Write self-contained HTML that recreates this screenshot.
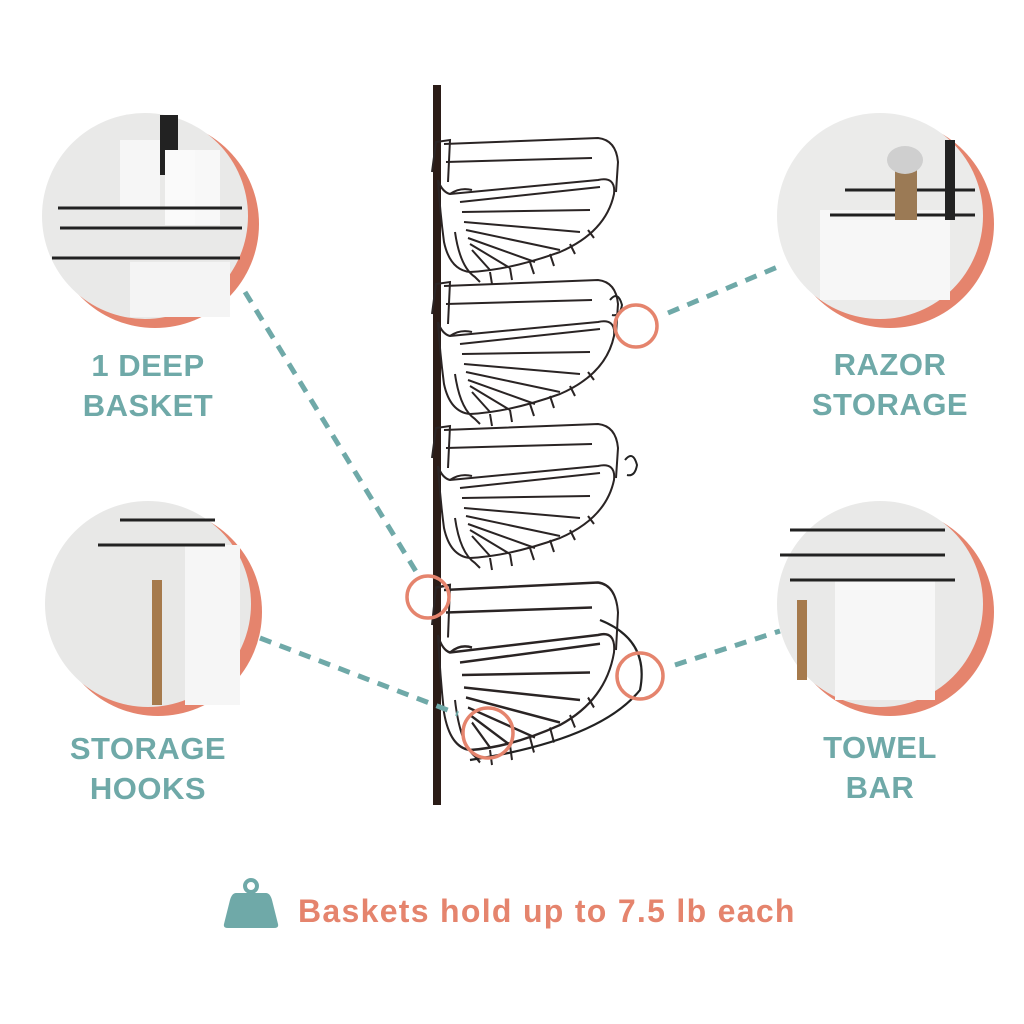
<!DOCTYPE html>
<html><head><style>
body{margin:0;background:#fff;width:1024px;height:1024px;overflow:hidden;font-family:"Liberation Sans",sans-serif}
.t{position:absolute;font-weight:bold;color:#6fa9a8;font-size:31px;text-align:center;line-height:40px;letter-spacing:0.5px}
</style></head><body>
<svg width="1024" height="1024" style="position:absolute;left:0;top:0">
<defs>
<g id="bk" fill="none" stroke="#2a2424" stroke-width="2">
<path d="M14,12 L168,6 Q186,8 188,30 L186,60"/>
<path d="M16,30 L162,26"/>
<path d="M8,48 Q12,60 20,62 L168,48 Q186,44 184,62 Q176,100 130,120 Q80,138 40,140 Q20,138 14,110 Q10,80 8,48"/>
<path d="M20,62 Q30,55 42,58"/>
<path d="M30,70 L170,55 M32,80 L160,78 M34,90 L150,100 M36,98 L130,118 M38,106 L105,130 M40,112 L80,136 M42,118 L60,138"/>
<path d="M25,100 Q30,135 45,145 L50,150 M60,140 L62,152 M80,136 L82,148 M100,130 L104,142 M120,122 L124,134 M140,112 L145,122 M158,98 L164,106"/>
<path d="M2,40 L6,10 L20,8 L18,50"/>
</g>
</defs>
<circle cx="155" cy="224" r="104" fill="#e5846d"/>
<circle cx="145" cy="216" r="103" fill="#e9e9e8"/>
<rect x="160" y="115" width="18" height="60" fill="#222"/><rect x="120" y="140" width="40" height="70" fill="#f6f6f6"/><rect x="165" y="150" width="30" height="75" fill="#fafafa"/><rect x="195" y="150" width="25" height="75" fill="#f8f8f8"/>
<path d="M58,208 L242,208 M60,228 L242,228 M52,258 L240,258" stroke="#222" stroke-width="3"/>
<rect x="130" y="262" width="100" height="55" fill="#f4f4f4"/>
<circle cx="890" cy="224" r="104" fill="#e5846d"/>
<circle cx="880" cy="216" r="103" fill="#ebebea"/>
<rect x="820" y="210" width="130" height="90" fill="#f7f7f7"/>
<path d="M845,190 L975,190 M830,215 L975,215" stroke="#222" stroke-width="3"/>
<rect x="895" y="160" width="22" height="60" fill="#9b7a55"/><ellipse cx="905" cy="160" rx="18" ry="14" fill="#cfcfcf"/>
<rect x="945" y="140" width="10" height="80" fill="#222"/>
<circle cx="158" cy="612" r="104" fill="#e5846d"/>
<circle cx="148" cy="604" r="103" fill="#e8e8e7"/>
<rect x="185" y="545" width="55" height="160" fill="#f6f6f6"/>
<path d="M98,545 L225,545 M120,520 L215,520" stroke="#222" stroke-width="3"/>
<rect x="152" y="580" width="10" height="125" fill="#a67a4c"/>
<circle cx="890" cy="612" r="104" fill="#e5846d"/>
<circle cx="880" cy="604" r="103" fill="#e9e9e8"/>
<rect x="835" y="580" width="100" height="120" fill="#f7f7f7"/>
<path d="M780,555 L945,555 M790,580 L955,580 M790,530 L945,530" stroke="#222" stroke-width="3"/>
<rect x="797" y="600" width="10" height="80" fill="#a67a4c"/>
<rect x="433" y="85" width="8" height="720" fill="#2b1c17"/>
<use href="#bk" transform="translate(430,132)"/>
<use href="#bk" transform="translate(430,274)"/>
<use href="#bk" transform="translate(430,418)"/>
<use href="#bk" transform="translate(430,575) scale(1,1.25)"/>
<path d="M610,300 q8,-10 12,5 q-2,12 -10,10 M625,460 q8,-10 12,5 q-2,12 -10,10" stroke="#222" stroke-width="2" fill="none"/>
<path d="M600,620 Q650,640 640,690 Q600,740 470,760" stroke="#222" stroke-width="2.2" fill="none"/>
<g stroke="#6fa9a8" stroke-width="5" stroke-dasharray="12,9" fill="none">
<path d="M245,292 L420,578"/>
<path d="M260,638 L458,714"/>
<path d="M668,313 L780,266"/>
<path d="M675,665 L780,631"/>
</g>
<g stroke="#e5846d" stroke-width="3.5" fill="none">
<circle cx="636" cy="326" r="21"/>
<circle cx="428" cy="597" r="21"/>
<circle cx="640" cy="676" r="23"/>
<circle cx="488" cy="733" r="25"/>
</g>
<circle cx="251" cy="886" r="6" fill="none" stroke="#6fa9a8" stroke-width="4"/>
<path d="M236,893 L266,893 Q270,893 272,900 L278,924 Q279,928 274,928 L228,928 Q223,928 224,924 L230,900 Q232,893 236,893Z" fill="#6fa9a8"/>
</svg>
<div class="t" style="left:48px;top:346px;width:200px">1 DEEP<br>BASKET</div>
<div class="t" style="left:790px;top:345px;width:200px">RAZOR<br>STORAGE</div>
<div class="t" style="left:48px;top:729px;width:200px">STORAGE<br>HOOKS</div>
<div class="t" style="left:780px;top:728px;width:200px">TOWEL<br>BAR</div>
<div style="position:absolute;left:298px;top:893px;font-size:32px;letter-spacing:1.3px;font-weight:bold;color:#e5846d;white-space:nowrap">Baskets hold up to 7.5 lb each</div>
</body></html>
